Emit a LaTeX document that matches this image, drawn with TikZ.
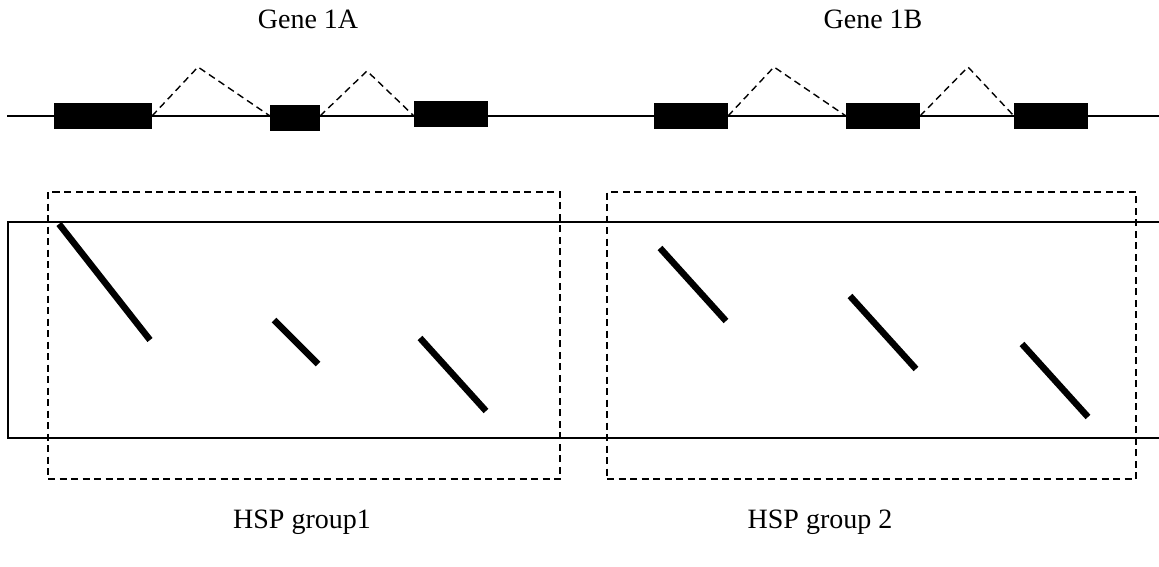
\documentclass[tikz,border=0pt]{standalone}
\usepackage{fontspec}
\setmainfont{Liberation Serif}
\begin{document}
\begin{tikzpicture}[x=1pt,y=-1pt,
  exon/.style={fill=black,draw=none,inner sep=0pt,outer sep=0pt,minimum height=26pt},
  genomic/.style={line width=1.8pt},
  intron/.style={line width=1.4pt,dash pattern=on 7pt off 4.5pt},
  groupbox/.style={draw,line width=1.4pt,dash pattern=on 7pt off 4.5pt,inner sep=0pt,outer sep=0pt},
  hsp/.style={line width=6.5pt},
  seqbox/.style={line width=1.5pt},
  lbl/.style={font=\fontsize{28}{34}\selectfont,anchor=base,inner sep=0pt}]
\useasboundingbox (0,0) rectangle (1159,567);
% labels
\node[lbl] (g1a) at (308,29) {Gene 1A};
\node[lbl] (g1b) at (873,29) {Gene 1B};
\node[lbl] (hsp1) at (302,528) {HSP group1};
\node[lbl] (hsp2) at (820,528) {HSP group 2};
% genomic line
\coordinate (ly) at (0,116);
\coordinate (lstart) at (7,116);
\coordinate (lend) at (1159,116);
\draw[genomic] (lstart) -- (lend);
% exons
\node[exon,minimum width=98pt] (e1) at (103,116) {};
\node[exon,minimum width=50pt] (e2) at (295,118) {};
\node[exon,minimum width=74pt] (e3) at (451,114) {};
\node[exon,minimum width=74pt] (e4) at (691,116) {};
\node[exon,minimum width=74pt] (e5) at (883,116) {};
\node[exon,minimum width=74pt] (e6) at (1051,116) {};
% intron peaks
\coordinate (p1) at (198,67);
\coordinate (p2) at (367,71);
\coordinate (p3) at (774,67);
\coordinate (p4) at (968,67);
\draw[intron] (e1.east |- ly) -- (p1) -- (e2.west |- ly);
\draw[intron] (e2.east |- ly) -- (p2) -- (e3.west |- ly);
\draw[intron] (e4.east |- ly) -- (p3) -- (e5.west |- ly);
\draw[intron] (e5.east |- ly) -- (p4) -- (e6.west |- ly);
% sequence box (open on the right)
\coordinate (st) at (1159,222);
\coordinate (sb) at (1159,438);
\draw[seqbox] (st) -- (8,222) -- (8,438) -- (sb);
% group boxes
\node[groupbox,minimum width=512pt,minimum height=287pt] (box1) at (304,335.5) {};
\node[groupbox,minimum width=529pt,minimum height=287pt] (box2) at (871.5,335.5) {};
% HSP segments
\coordinate (h1a) at (59,224); \coordinate (h1b) at (150,340);
\coordinate (h2a) at (274,320); \coordinate (h2b) at (318,364);
\coordinate (h3a) at (420,338); \coordinate (h3b) at (486,411);
\coordinate (h4a) at (660,248); \coordinate (h4b) at (726,321);
\coordinate (h5a) at (850,296); \coordinate (h5b) at (916,369);
\coordinate (h6a) at (1022,344); \coordinate (h6b) at (1088,417);
\draw[hsp] (h1a) -- (h1b);
\draw[hsp] (h2a) -- (h2b);
\draw[hsp] (h3a) -- (h3b);
\draw[hsp] (h4a) -- (h4b);
\draw[hsp] (h5a) -- (h5b);
\draw[hsp] (h6a) -- (h6b);
\end{tikzpicture}
\end{document}
